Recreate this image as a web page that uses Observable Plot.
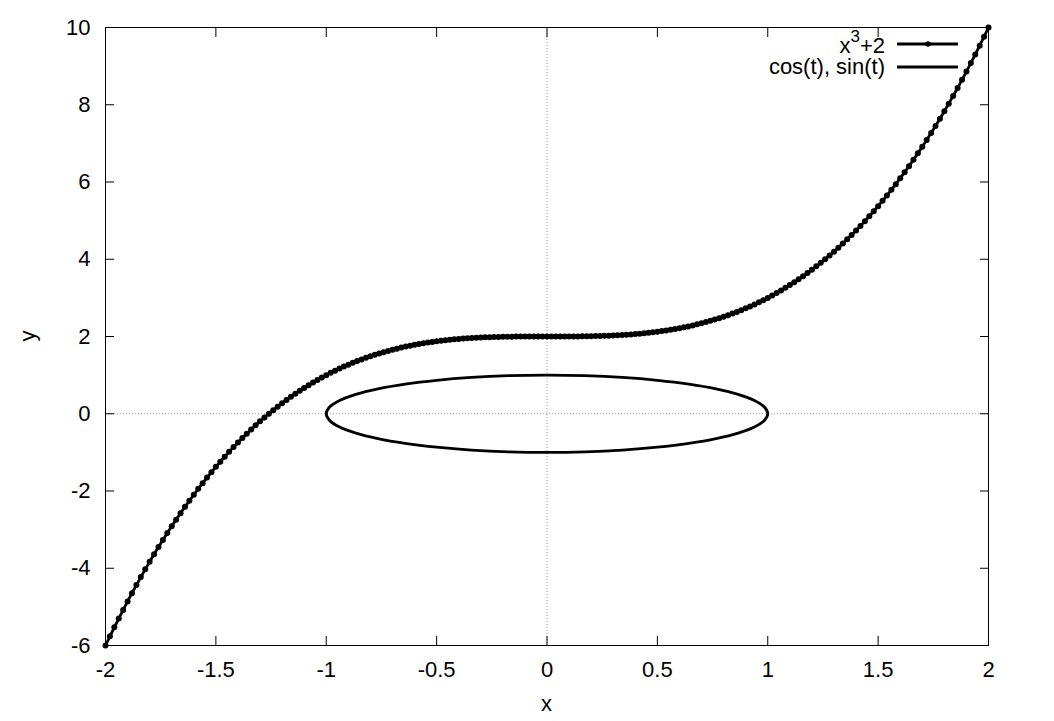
<!DOCTYPE html>
<html>
<head>
<meta charset="utf-8">
<script src="https://cdn.jsdelivr.net/npm/d3@7"></script>
<script src="https://cdn.jsdelivr.net/npm/@observablehq/plot@0.6"></script>
<style>
  html, body { margin: 0; padding: 0; background: #fff; overflow: hidden; }
  #chart { width: 1054px; height: 721px; }
</style>
</head>
<body>
<div id="chart"></div>
<script>
const cubicX = [
-2,-1.98,-1.96,-1.94,-1.92,-1.9,-1.88,-1.86,-1.84,-1.82,
-1.8,-1.78,-1.76,-1.74,-1.72,-1.7,-1.68,-1.66,-1.64,-1.62,
-1.6,-1.58,-1.56,-1.54,-1.52,-1.5,-1.48,-1.46,-1.44,-1.42,
-1.4,-1.38,-1.36,-1.34,-1.32,-1.3,-1.28,-1.26,-1.24,-1.22,
-1.2,-1.18,-1.16,-1.14,-1.12,-1.1,-1.08,-1.06,-1.04,-1.02,
-1,-0.98,-0.96,-0.94,-0.92,-0.9,-0.88,-0.86,-0.84,-0.82,
-0.8,-0.78,-0.76,-0.74,-0.72,-0.7,-0.68,-0.66,-0.64,-0.62,
-0.6,-0.58,-0.56,-0.54,-0.52,-0.5,-0.48,-0.46,-0.44,-0.42,
-0.4,-0.38,-0.36,-0.34,-0.32,-0.3,-0.28,-0.26,-0.24,-0.22,
-0.2,-0.18,-0.16,-0.14,-0.12,-0.1,-0.08,-0.06,-0.04,-0.02,
0,
0.02,0.04,0.06,0.08,0.1,0.12,0.14,0.16,0.18,0.2,
0.22,0.24,0.26,0.28,0.3,0.32,0.34,0.36,0.38,0.4,
0.42,0.44,0.46,0.48,0.5,0.52,0.54,0.56,0.58,0.6,
0.62,0.64,0.66,0.68,0.7,0.72,0.74,0.76,0.78,0.8,
0.82,0.84,0.86,0.88,0.9,0.92,0.94,0.96,0.98,1,
1.02,1.04,1.06,1.08,1.1,1.12,1.14,1.16,1.18,1.2,
1.22,1.24,1.26,1.28,1.3,1.32,1.34,1.36,1.38,1.4,
1.42,1.44,1.46,1.48,1.5,1.52,1.54,1.56,1.58,1.6,
1.62,1.64,1.66,1.68,1.7,1.72,1.74,1.76,1.78,1.8,
1.82,1.84,1.86,1.88,1.9,1.92,1.94,1.96,1.98,2
];
const cubicY = [
-6.0000,-5.7624,-5.5295,-5.3014,-5.0779,-4.8590,-4.6447,-4.4349,-4.2295,-4.0286,
-3.8320,-3.6398,-3.4518,-3.2680,-3.0884,-2.9130,-2.7416,-2.5743,-2.4109,-2.2515,
-2.0960,-1.9443,-1.7964,-1.6523,-1.5118,-1.3750,-1.2418,-1.1121,-0.9860,-0.8633,
-0.7440,-0.6281,-0.5155,-0.4061,-0.3000,-0.1970,-0.0972,-0.0004,0.0934,0.1842,
0.2720,0.3570,0.4391,0.5185,0.5951,0.6690,0.7403,0.8090,0.8751,0.9388,
1.0000,1.0588,1.1153,1.1694,1.2213,1.2710,1.3185,1.3639,1.4073,1.4486,
1.4880,1.5254,1.5610,1.5948,1.6268,1.6570,1.6856,1.7125,1.7379,1.7617,
1.7840,1.8049,1.8244,1.8425,1.8594,1.8750,1.8894,1.9027,1.9148,1.9259,
1.9360,1.9451,1.9533,1.9607,1.9672,1.9730,1.9780,1.9824,1.9862,1.9894,
1.9920,1.9942,1.9959,1.9973,1.9983,1.9990,1.9995,1.9998,1.9999,2.0000,
2.0000,
2.0000,2.0001,2.0002,2.0005,2.0010,2.0017,2.0027,2.0041,2.0058,2.0080,
2.0106,2.0138,2.0176,2.0220,2.0270,2.0328,2.0393,2.0467,2.0549,2.0640,
2.0741,2.0852,2.0973,2.1106,2.1250,2.1406,2.1575,2.1756,2.1951,2.2160,
2.2383,2.2621,2.2875,2.3144,2.3430,2.3732,2.4052,2.4390,2.4746,2.5120,
2.5514,2.5927,2.6361,2.6815,2.7290,2.7787,2.8306,2.8847,2.9412,3.0000,
3.0612,3.1249,3.1910,3.2597,3.3310,3.4049,3.4815,3.5609,3.6430,3.7280,
3.8158,3.9066,4.0004,4.0972,4.1970,4.3000,4.4061,4.5155,4.6281,4.7440,
4.8633,4.9860,5.1121,5.2418,5.3750,5.5118,5.6523,5.7964,5.9443,6.0960,
6.2515,6.4109,6.5743,6.7416,6.9130,7.0884,7.2680,7.4518,7.6398,7.8320,
8.0286,8.2295,8.4349,8.6447,8.8590,9.0779,9.3014,9.5295,9.7624,10.0000
];

// Series 2: parametric cos(t), sin(t), read every 10 degrees
const circleX = [1,0.9848,0.9397,0.8660,0.7660,0.6428,0.5,0.3420,0.1736,0,
-0.1736,-0.3420,-0.5,-0.6428,-0.7660,-0.8660,-0.9397,-0.9848,-1,-0.9848,
-0.9397,-0.8660,-0.7660,-0.6428,-0.5,-0.3420,-0.1736,0,0.1736,0.3420,
0.5,0.6428,0.7660,0.8660,0.9397,0.9848];
const circleY = [0,0.1736,0.3420,0.5,0.6428,0.7660,0.8660,0.9397,0.9848,1,
0.9848,0.9397,0.8660,0.7660,0.6428,0.5,0.3420,0.1736,0,-0.1736,
-0.3420,-0.5,-0.6428,-0.7660,-0.8660,-0.9397,-0.9848,-1,-0.9848,-0.9397,
-0.8660,-0.7660,-0.6428,-0.5,-0.3420,-0.1736];

// Axes
const xTicks = [-2,-1.5,-1,-0.5,0,0.5,1,1.5,2];
const yTicks = [-6,-4,-2,0,2,4,6,8,10];
const zeroLines = [0];
const seriesNames = ["x", "3", "+2", "cos(t), sin(t)"];
const axisLabels = {x: "x", y: "y"};

const cubic = cubicX.map((x, i) => ({x, y: cubicY[i]}));
const circle = circleX.map((x, i) => ({x, y: circleY[i]}));

const fmt = d => String(d);
const W = 1054, H = 721;
const mL = 105, mR = 66, mT = 27, mB = 76;
const FS = 22;
const ff = "'Liberation Sans', Arial, sans-serif";

const chart = Plot.plot({
  width: W, height: H,
  marginLeft: mL, marginRight: mR, marginTop: mT, marginBottom: mB,
  style: {fontFamily: ff, fontSize: FS + "px", background: "#fff", color: "#000"},
  x: {domain: [-2, 2]},
  y: {domain: [-6, 10]},
  marks: [
    Plot.ruleX(zeroLines, {stroke: "#9a9a9a", strokeWidth: 1, strokeDasharray: "1,2"}),
    Plot.ruleY(zeroLines, {stroke: "#9a9a9a", strokeWidth: 1, strokeDasharray: "1,2"}),
    // inward ticks on all four sides
    Plot.axisX({anchor: "bottom", ticks: xTicks, text: null, tickSize: 9, dy: -9, label: null}),
    Plot.axisX({anchor: "top", ticks: xTicks, text: null, tickSize: 9, dy: 9, label: null}),
    Plot.axisY({anchor: "left", ticks: yTicks, text: null, tickSize: 9, dx: 9, label: null}),
    Plot.axisY({anchor: "right", ticks: yTicks, text: null, tickSize: 9, dx: -9, label: null}),
    // tick labels
    Plot.axisX({anchor: "bottom", ticks: xTicks, tickSize: 0, tickPadding: 16, tickFormat: fmt, label: null, fontSize: FS}),
    Plot.axisY({anchor: "left", ticks: yTicks, tickSize: 0, tickPadding: 15, tickFormat: fmt, label: null, fontSize: FS}),
    Plot.line(circle, {x: "x", y: "y", curve: "catmull-rom-closed", stroke: "#000", strokeWidth: 2.8}),
    Plot.line(cubic, {x: "x", y: "y", stroke: "#000", strokeWidth: 2.8}),
    Plot.dot(cubic, {x: "x", y: "y", r: 3, fill: "#000", stroke: "none"}),
    Plot.frame({stroke: "#000", strokeWidth: 1})
  ]
});
document.getElementById("chart").appendChild(chart);

// Axis titles and legend
const svg = d3.select(chart);
svg.append("text").attr("x", mL + (W - mL - mR) / 2).attr("y", 711)
  .attr("text-anchor", "middle").attr("fill", "#000")
  .text(axisLabels.x);
svg.append("text").attr("transform", `translate(35,${mT + (H - mT - mB) / 2}) rotate(-90)`)
  .attr("text-anchor", "middle").attr("fill", "#000")
  .text(axisLabels.y);

const lg = svg.append("g").attr("fill", "#000");
const tPlus = lg.append("text").attr("x", 885).attr("y", 53).attr("text-anchor", "end").text(seriesNames[2]);
const tSup = lg.append("text").attr("class", "sup").attr("y", 42).attr("text-anchor", "end").text(seriesNames[1]);
const tX = lg.append("text").attr("y", 53).attr("text-anchor", "end").text(seriesNames[0]);
lg.append("line").attr("x1", 897).attr("x2", 958).attr("y1", 44).attr("y2", 44)
  .attr("stroke", "#000").attr("stroke-width", 3);
lg.append("circle").attr("cx", 928).attr("cy", 44).attr("r", 2.8).attr("fill", "#000");
lg.append("text").attr("x", 885).attr("y", 74).attr("text-anchor", "end").text(seriesNames[3]);
lg.append("line").attr("x1", 897).attr("x2", 958).attr("y1", 67).attr("y2", 67)
  .attr("stroke", "#000").attr("stroke-width", 3);

// force font on every text
svg.selectAll("text").style("font-family", ff).style("font-size", FS + "px");
svg.selectAll("text.sup").style("font-size", "17px");

// place superscript pieces side by side
const wPlus = tPlus.node().getComputedTextLength();
tSup.attr("x", 885 - wPlus);
const wSup = tSup.node().getComputedTextLength();
tX.attr("x", 885 - wPlus - wSup);
</script>
</body>
</html>
